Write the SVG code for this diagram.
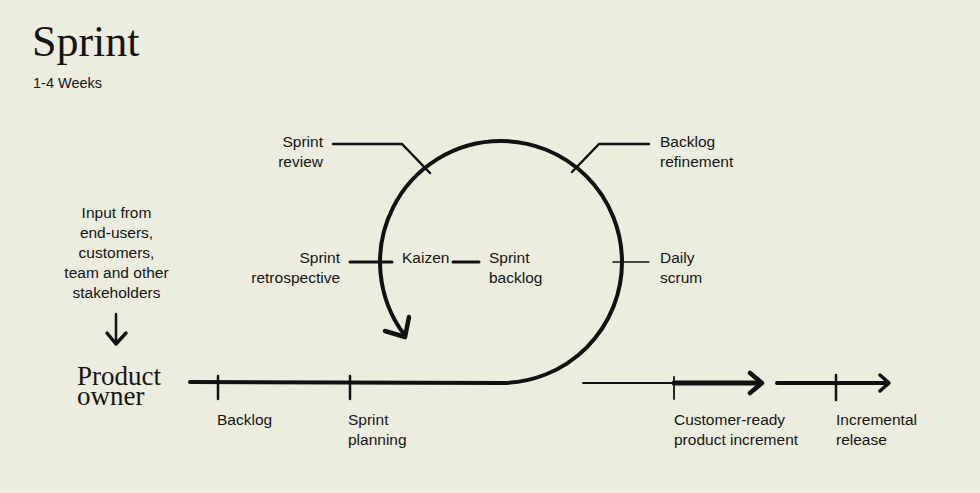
<svg xmlns="http://www.w3.org/2000/svg" width="980" height="493" viewBox="0 0 980 493">
<style>
.bg{fill:#ECECDF}
.t{font-family:"Liberation Sans",Arial,sans-serif;font-size:15.5px;fill:#141414}
.s{font-family:"Liberation Serif","Times New Roman",serif;fill:#141414}
.r{text-anchor:end}
.m{text-anchor:middle}
.ln{fill:none;stroke:#111;stroke-linecap:round;stroke-linejoin:round}
</style>
<rect class="bg" x="0" y="0" width="980" height="493"/>
<g id="title">
<text class="s" x="32" y="56" font-size="44">Sprint</text>
<text class="t" x="33" y="88" style="font-size:14.5px">1-4 Weeks</text>
</g>
<g id="connectors">
<path class="ln" stroke-width="4" d="M190,382 L501,383 A121,121 0 0 0 622,262 A121,121 0 0 0 501,141 A121,121 0 0 0 404.4,334.8"/>
<polyline class="ln" stroke-width="4.5" points="385,331 405,337 409,317"/>
<line class="ln" stroke-width="2.5" x1="218" y1="376" x2="218" y2="399"/>
<line class="ln" stroke-width="2.5" x1="350" y1="376" x2="350" y2="399"/>
<line class="ln" stroke-width="2" x1="583" y1="383" x2="674" y2="383"/>
<line class="ln" stroke-width="5" x1="674" y1="383" x2="760" y2="383"/>
<polyline class="ln" stroke-width="4.5" points="750,373 762,383 750,393"/>
<line class="ln" stroke-width="1.8" x1="674" y1="377" x2="674" y2="399"/>
<line class="ln" stroke-width="4" x1="777" y1="383" x2="888" y2="383"/>
<polyline class="ln" stroke-width="3.5" points="880,375 889,383 880,391"/>
<line class="ln" stroke-width="2.5" x1="836" y1="375" x2="836" y2="400"/>
<polyline class="ln" stroke-width="2.5" points="333,144 402,144 430,173"/>
<polyline class="ln" stroke-width="2.5" points="649,144 599,144 572,172"/>
<line class="ln" stroke-width="3" x1="350" y1="262" x2="392" y2="262"/>
<line class="ln" stroke-width="3" x1="453" y1="262" x2="479" y2="262"/>
<line class="ln" stroke-width="1.5" x1="613" y1="262" x2="649" y2="262"/>
<line class="ln" stroke-width="2.5" x1="116" y1="314" x2="116" y2="344"/>
<polyline class="ln" stroke-width="3.5" points="107,333 116,344 126,333"/>
</g>
<g id="input">
<text class="t m" x="116.5" y="218">Input from</text>
<text class="t m" x="116.5" y="238">end-users,</text>
<text class="t m" x="116.5" y="258">customers,</text>
<text class="t m" x="116.5" y="278">team and other</text>
<text class="t m" x="116.5" y="298">stakeholders</text>
</g>
<g id="product-owner">
<text class="s" font-size="27"><tspan x="77" y="385">Product</tspan><tspan x="77" y="405">owner</tspan></text>
</g>
<g id="backlog"><text class="t" x="217" y="425">Backlog</text></g>
<g id="sprint-planning">
<text class="t" x="348" y="425">Sprint</text>
<text class="t" x="348" y="445">planning</text>
</g>
<g id="customer-ready">
<text class="t" x="674" y="425">Customer-ready</text>
<text class="t" x="674" y="445">product increment</text>
</g>
<g id="incremental-release">
<text class="t" x="836" y="425">Incremental</text>
<text class="t" x="836" y="445">release</text>
</g>
<g id="sprint-review">
<text class="t r" x="323" y="147">Sprint</text>
<text class="t r" x="323" y="167">review</text>
</g>
<g id="backlog-refinement">
<text class="t" x="660" y="147">Backlog</text>
<text class="t" x="660" y="167">refinement</text>
</g>
<g id="sprint-retrospective">
<text class="t r" x="340" y="263">Sprint</text>
<text class="t r" x="340" y="283">retrospective</text>
</g>
<g id="kaizen"><text class="t" x="402" y="263">Kaizen</text></g>
<g id="sprint-backlog">
<text class="t" x="489" y="263">Sprint</text>
<text class="t" x="489" y="283">backlog</text>
</g>
<g id="daily-scrum">
<text class="t" x="660" y="263">Daily</text>
<text class="t" x="660" y="283">scrum</text>
</g>
</svg>
